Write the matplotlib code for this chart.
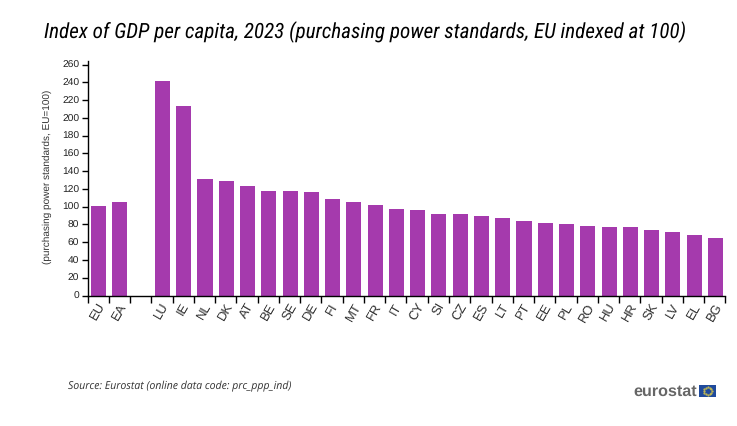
import matplotlib
matplotlib.use("Agg")
import matplotlib.pyplot as plt
from matplotlib.patches import Rectangle
import numpy as np

categories = ["EU","EA","","LU","IE","NL","DK","AT","BE","SE","DE","FI","MT","FR","IT","CY",
              "SI","CZ","ES","LT","PT","EE","PL","RO","HU","HR","SK","LV","EL","BG"]
values = [100.5,105,np.nan,241,213,131,129,123.5,118,118,116,109,105,102,97,96,
          92,92,89.5,87,84,82,80.5,78.5,77.5,77,74,72,68,65]
y_ticks = list(range(0,261,20))

W,H = 737,426
plt.rcParams['font.family'] = ['Liberation Sans','DejaVu Sans']
plt.rcParams['text.hinting'] = 'no_hinting'
plt.rcParams['text.hinting_factor'] = 8
fig = plt.figure(figsize=(W/100,H/100),dpi=100)
L,R,T,B = 87.5,725.5,60.5,295.5
ax = fig.add_axes([L/W,1-B/H,(R-L)/W,(B-T)/H])
x = np.arange(len(categories))
ax.bar(x+0.025,values,width=0.71,color="#a53aad")
ax.set_xlim(-0.5,len(categories)-0.5)
ax.set_ylim(0,(B-T)/(231/260))
ax.set_yticks(y_ticks)
ax.set_yticklabels([str(v) for v in y_ticks],fontsize=7.4,color="#222222")
ax.set_xticks(np.arange(len(categories)+1)-0.5,minor=True)
ax.set_xticks(x)
ax.set_xticklabels(categories,fontsize=9.4,rotation=60,ha="center",va="top",color="#333333")
ax.tick_params(axis="x",which="major",length=0,pad=4)
ax.tick_params(axis="x",which="minor",length=5,width=1,color="black")
ax.tick_params(axis="y",length=4,width=1,pad=2,color="black")
for s in ("top","right"):
    ax.spines[s].set_visible(False)
for s in ("left","bottom"):
    ax.spines[s].set_linewidth(1)
fig.text(47/W,1-177/H,"(purchasing power standards, EU=100)",rotation=90,fontsize=7.2,
         ha="center",va="center",color="#333333")
fig.text(44/W,1-32.5/H,"Index of GDP per capita, 2023 (purchasing power standards, EU indexed at 100)",
         fontsize=15.2,style="italic",family="Roboto Condensed",ha="left",va="center",color="black")
fig.text(68/W,1-385.5/H,"Source: Eurostat (online data code: prc_ppp_ind)",fontsize=7.6,style="italic",
         family="Open Sans",ha="left",va="center",color="#333333")
fig.text(697/W,1-391.5/H,"eurostat",fontsize=11.6,fontweight="bold",ha="right",va="center",color="#666666",
         family="Liberation Sans")
fig.add_artist(Rectangle((699/W,1-397/H),17/W,12/H,transform=fig.transFigure,facecolor="#1f4a9c",edgecolor="none"))
theta = np.arange(12)*np.pi/6
fig.add_artist(plt.Line2D((707.5+4*np.cos(theta))/W,(1-391/H+4*np.sin(theta)/H),linestyle="none",marker="o",
                          markersize=0.6,color="#c9bd50",transform=fig.transFigure))
fig.savefig("out.png",dpi=100)
